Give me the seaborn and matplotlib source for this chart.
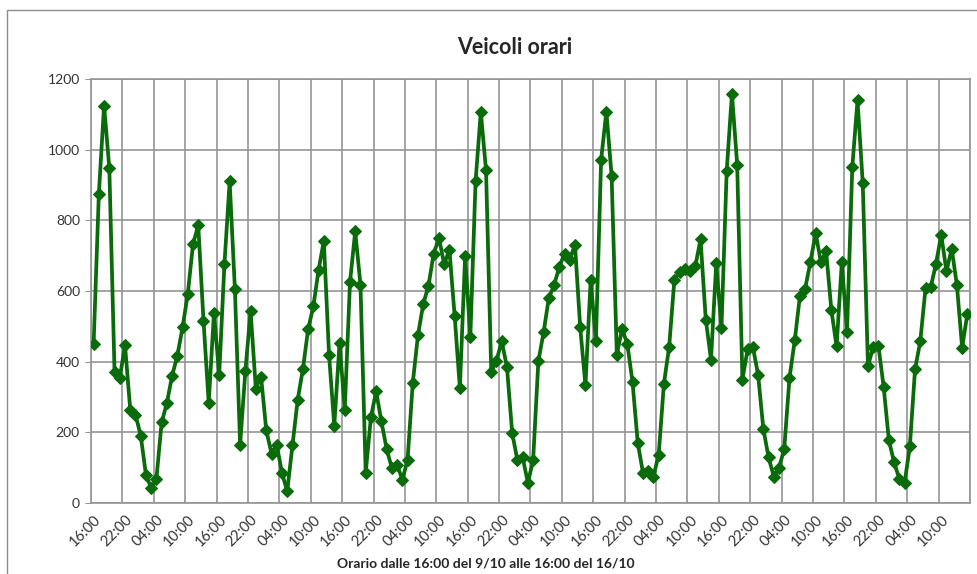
import matplotlib
matplotlib.use("Agg")
import matplotlib.pyplot as plt
import matplotlib.patches as mpatches
from matplotlib.ticker import FixedLocator
import seaborn as sns
import pandas as pd

# veicoli orari, dalle 16:00 del 9/10 alle 15:00 del 16/10 (168 ore)
veicoli = [
    450, 875, 1125, 948, 371, 354, 447, 264, 250, 191, 80, 42,
    68, 228, 283, 360, 417, 497, 592, 733, 786, 516, 283, 538,
    363, 676, 910, 606, 165, 373, 544, 324, 358, 206, 140, 165,
    85, 33, 163, 292, 379, 492, 557, 660, 742, 418, 219, 453,
    264, 625, 769, 618, 85, 243, 316, 231, 153, 99, 108, 66,
    121, 340, 476, 563, 615, 706, 750, 676, 717, 530, 325, 698,
    470, 910, 1107, 942, 370, 403, 458, 385, 198, 121, 129, 57,
    121, 401, 483, 580, 616, 668, 706, 689, 731, 497, 333, 632,
    458, 972, 1108, 926, 420, 492, 451, 342, 170, 85, 90, 75,
    137, 338, 442, 632, 653, 662, 656, 670, 747, 519, 406, 678,
    495, 941, 1158, 958, 349, 436, 442, 363, 210, 129, 75, 99,
    154, 354, 460, 587, 607, 682, 764, 682, 712, 547, 443, 681,
    485, 950, 1140, 906, 387, 442, 445, 328, 177, 115, 68, 57,
    160, 379, 458, 608, 611, 677, 759, 656, 720, 616, 439, 536,
]
ore_etichette = ["16:00", "22:00", "04:00", "10:00"] * 7

df = pd.DataFrame({"ora": range(len(veicoli)), "veicoli": veicoli})

sns.set_style("white")
plt.rcParams["font.family"] = ["Lato", "DejaVu Sans"]

fig = plt.figure(figsize=(9.78, 5.74), dpi=100)
ax = fig.add_axes([91 / 978, 1 - 503 / 574, 879 / 978, 424 / 574])

# cornice dell'area del grafico
fig.patches.append(mpatches.Rectangle((7 / 978, -0.05), 1.2, 1 - 10 / 574 + 0.05,
                                      transform=fig.transFigure, fill=False,
                                      edgecolor="#8c8c8c", linewidth=1.0))

sns.lineplot(data=df, x="ora", y="veicoli", ax=ax, color="#0a6b0a",
             linewidth=2.7, marker="D", markersize=6,
             markeredgecolor="#0a6b0a", zorder=3)

ax.set_xlim(-0.5, len(veicoli) - 0.5)
ax.set_ylim(0, 1200)
ax.set_yticks(range(0, 1201, 200))
ax.set_xticks(range(0, len(veicoli), 6))
ax.set_xticklabels(ore_etichette, rotation=45, ha="right", rotation_mode="anchor")
ax.xaxis.set_minor_locator(FixedLocator([k - 0.5 for k in range(0, len(veicoli) + 1, 6)]))

ax.grid(True, axis="y", color="#959595", linewidth=1.2)
ax.grid(True, axis="x", which="minor", color="#959595", linewidth=1.2)
ax.grid(False, axis="x", which="major")
for s in ax.spines.values():
    s.set_color("#959595")
    s.set_linewidth(1.2)

ax.tick_params(axis="x", which="major", length=0, pad=7, labelsize=10.5, labelcolor="#333333")
ax.tick_params(axis="x", which="minor", length=0)
ax.tick_params(axis="y", length=4, color="#959595", pad=4, labelsize=10, labelcolor="#333333", left=True)

ax.set_xlabel("Orario dalle 16:00 del 9/10 alle 16:00 del 16/10", fontsize=10, fontweight="bold")
ax.xaxis.set_label_coords((486 - 91) / 879, (503 - 563) / 424)
ax.xaxis.label.set_va("center")
ax.set_ylabel("")

fig.text(515 / 978, 1 - 47 / 574, "Veicoli orari", ha="center", va="center",
         fontsize=15.5, fontweight="bold")

plt.savefig("out.png", dpi=100)
